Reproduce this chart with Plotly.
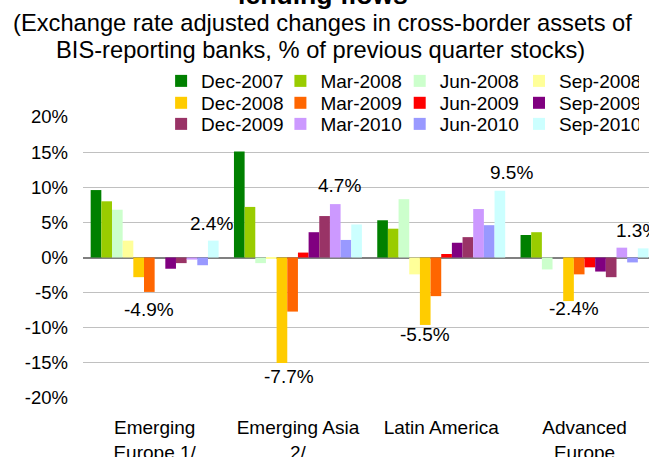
import plotly.graph_objects as go

categories = ["Emerging<br>Europe 1/", "Emerging Asia<br>2/", "Latin America", "Advanced<br>Europe"]
series_names = ["Dec-2007", "Mar-2008", "Jun-2008", "Sep-2008",
                "Dec-2008", "Mar-2009", "Jun-2009", "Sep-2009",
                "Dec-2009", "Mar-2010", "Jun-2010", "Sep-2010"]
# values per series: [Emerging Europe, Emerging Asia, Latin America, Advanced Europe]
dec_2007 = [9.6, 15.1, 5.3, 3.2]
mar_2008 = [8.0, 7.2, 4.1, 3.6]
jun_2008 = [6.8, -0.8, 8.3, -1.7]
sep_2008 = [2.4, -0.2, -2.4, 0.0]
dec_2008 = [-2.8, -15.0, -9.6, -6.2]
mar_2009 = [-4.9, -7.7, -5.5, -2.4]
jun_2009 = [0.0, 0.7, 0.5, -1.4]
sep_2009 = [-1.6, 3.6, 2.1, -2.0]
dec_2009 = [-0.8, 5.9, 2.9, -2.8]
mar_2010 = [-0.3, 7.6, 6.9, 1.4]
jun_2010 = [-1.1, 2.5, 4.6, -0.7]
sep_2010 = [2.4, 4.7, 9.5, 1.3]
series_values = [dec_2007, mar_2008, jun_2008, sep_2008, dec_2008, mar_2009,
                 jun_2009, sep_2009, dec_2009, mar_2010, jun_2010, sep_2010]
colors = ["#008000", "#99CC00", "#CCFFCC", "#FFFF99", "#FFCC00", "#FF6600",
          "#FF0000", "#800080", "#993366", "#CC99FF", "#9999FF", "#CCFFFF"]
y_ticks = [-20, -15, -10, -5, 0, 5, 10, 15, 20]
y_tick_labels = [f"{v}%" for v in y_ticks]

FONT = "Liberation Sans, Arial, sans-serif"
# legend rows (top to bottom); bottom row drawn first so its white box sits underneath
legend_ids = ["legend3", "legend2", "legend"]

fig = go.Figure()
for i, (name, vals, col) in enumerate(zip(series_names, series_values, colors)):
    fig.add_trace(go.Bar(name=name, x=categories, y=vals, legend=legend_ids[i // 4],
                         marker=dict(color=col, line=dict(width=0))))

# value labels: Mar-2009 trough and Sep-2010 latest
label_pos_last = [(0.40, 4.8), (1.29, 10.3), (2.49, 12.1), (3.37, 3.8)]
label_pos_trough = [(-0.04, -7.4), (0.94, -17.0), (1.89, -10.9), (2.93, -7.2)]
annotations = []
for i in range(4):
    for (px, py), v in ((label_pos_last[i], sep_2010[i]), (label_pos_trough[i], mar_2009[i])):
        annotations.append(dict(x=px, y=py, xref="x", yref="y", text=f"{v:.1f}%",
                                showarrow=False, font=dict(size=19, color="black", family=FONT)))

annotations.append(dict(x=0.424, y=1.375, xref="paper", yref="paper", yanchor="bottom",
                        text="<b>Cross-border bank<br>lending flows</b>", showarrow=False,
                        font=dict(size=26.6, color="black", family=FONT)))
annotations.append(dict(x=0.424, y=1.281, xref="paper", yref="paper", yanchor="bottom",
                        text="(Exchange rate adjusted changes in cross-border assets of",
                        showarrow=False, font=dict(size=23.7, color="black", family=FONT)))
annotations.append(dict(x=0.419, y=1.185, xref="paper", yref="paper", yanchor="bottom",
                        text="BIS-reporting banks, % of previous quarter stocks)",
                        showarrow=False, font=dict(size=23.7, color="black", family=FONT)))

legend_common = dict(orientation="h", x=0.138, xanchor="left", yanchor="middle",
                     entrywidth=74.3, entrywidthmode="pixels",
                     font=dict(size=19, family=FONT, color="black"), traceorder="normal",
                     itemclick=False, itemdoubleclick=False)

fig.update_layout(
    width=649, height=457,
    margin=dict(l=83, r=0, t=117, b=59, autoexpand=False),
    paper_bgcolor="white", plot_bgcolor="white",
    barmode="group", bargap=0.107, bargroupgap=0,
    font=dict(family=FONT, size=19, color="black"),
    showlegend=True,
    legend3=dict(y=1.128, bgcolor="rgba(0,0,0,0)", **legend_common),
    legend2=dict(y=1.05, bgcolor="rgba(0,0,0,0)", **legend_common),
    legend=dict(y=0.975, bgcolor="white", **legend_common),
    annotations=annotations,
    xaxis=dict(type="category", range=[-0.5, 3.45], showgrid=False, showline=False,
               ticks="", tickfont=dict(size=19), ticklabelstandoff=16),
    yaxis=dict(range=[-20, 20], tickvals=y_ticks, ticktext=y_tick_labels,
               showgrid=True, gridcolor="#C0C0C0", gridwidth=1,
               zeroline=True, zerolinecolor="#808080", zerolinewidth=2,
               showline=False, ticks="", tickfont=dict(size=18.5), ticklabelstandoff=14),
)

fig.write_html("out.html", config={"displayModeBar": False},
               post_script="document.body.style.margin='0';")
